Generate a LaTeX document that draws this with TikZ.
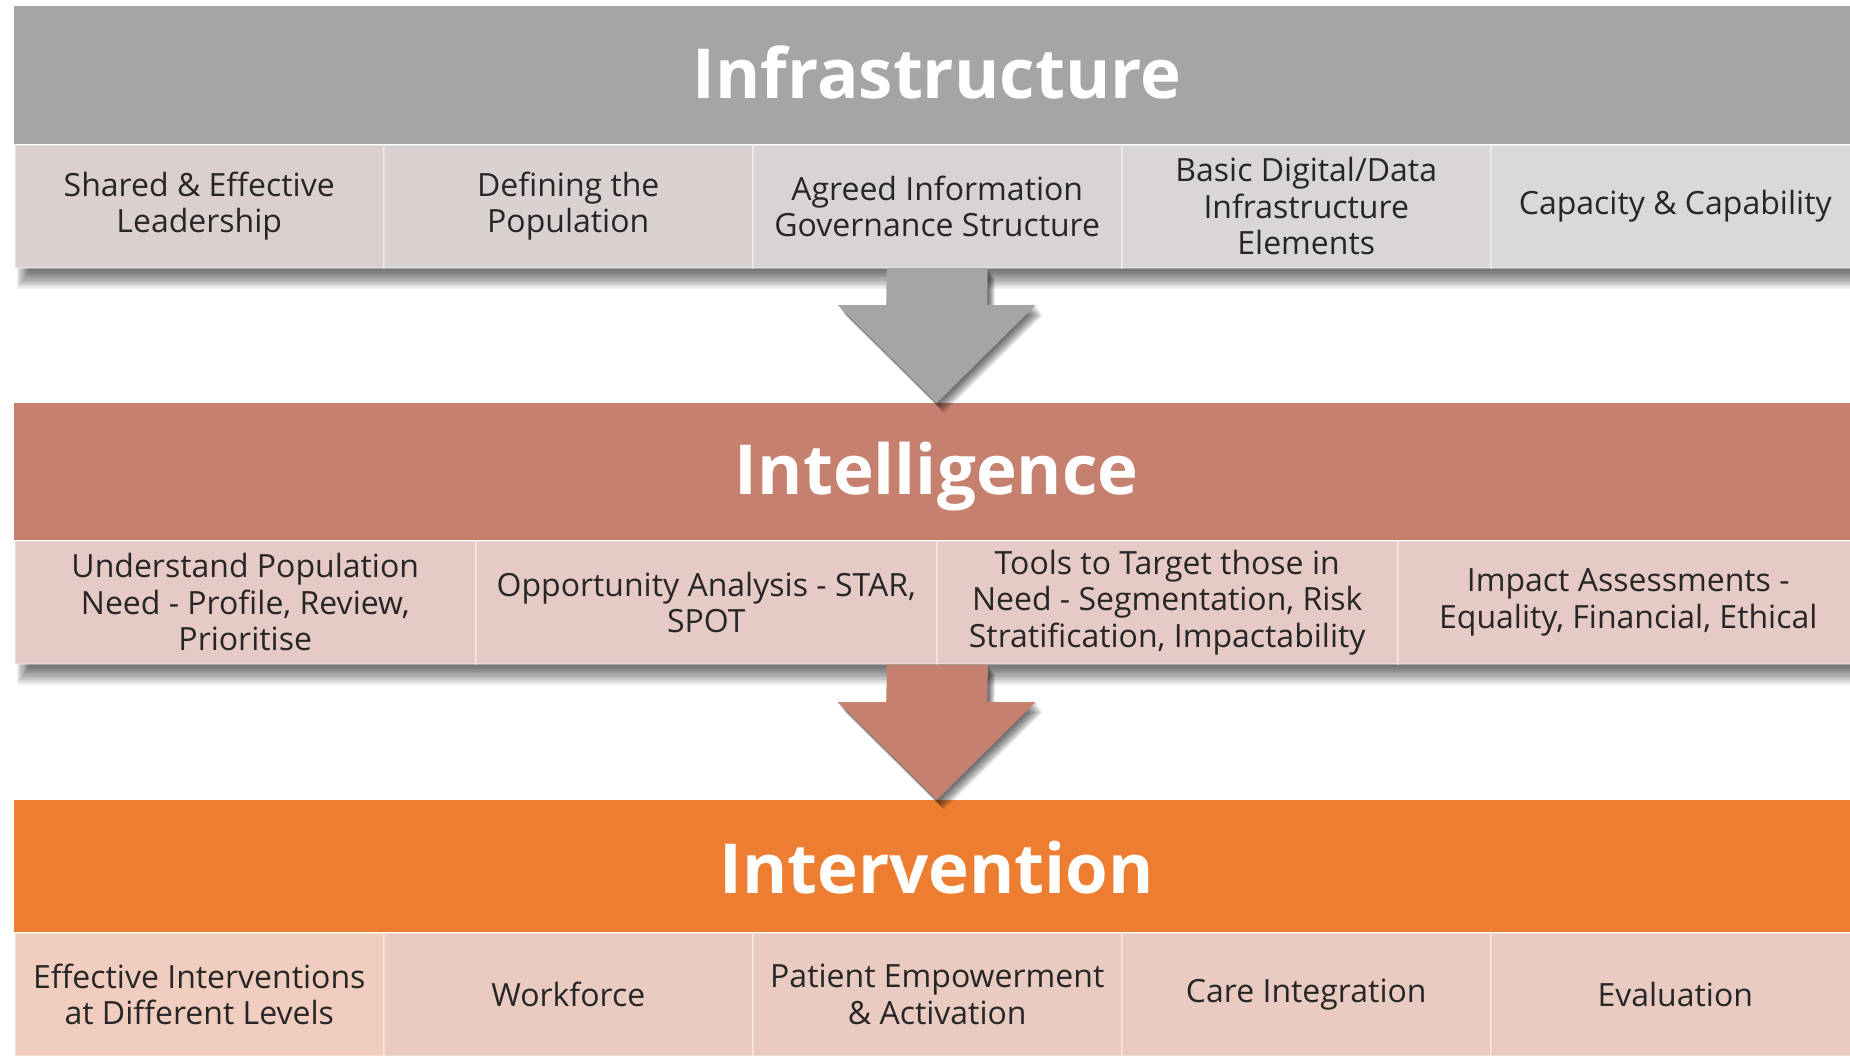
\documentclass[tikz,border=0pt]{standalone}
\usepackage{fontspec}
\setmainfont{Open Sans}
\usetikzlibrary{calc,backgrounds}

% band colours
\definecolor{infraband}{HTML}{A5A5A5}
\definecolor{intelband}{HTML}{C5806F}
\definecolor{interband}{HTML}{ED7D31}
% cell colours
\definecolor{infraA}{HTML}{DCD0CF}
\definecolor{infraB}{HTML}{DAD2D1}
\definecolor{infraC}{HTML}{D9D4D3}
\definecolor{infraD}{HTML}{D9D6D5}
\definecolor{infraE}{HTML}{D9D9D9}
\definecolor{intelcell}{HTML}{E6CAC5}
\definecolor{intercellA}{HTML}{F0CDBF}
\definecolor{intercell}{HTML}{E9CBC1}
\definecolor{celltext}{HTML}{262626}

% block arrow outline: start anchor, tip anchor, x offset, y offset, fill options
\newcommand\arrowfill[5]{%
  \fill[#5]
    ($(#1)+(-50.5+#3,#4)$) -- ($(#2)+(-50.5+#3,-98+#4)$)
    -- ($(#2)+(-99+#3,-98+#4)$) -- ($(#2)+(#3,#4)$)
    -- ($(#2)+(99+#3,-98+#4)$) -- ($(#2)+(50.5+#3,-98+#4)$)
    -- ($(#1)+(50.5+#3,#4)$) -- cycle;
}
% block arrow with a soft shadow: start anchor, tip anchor, colour
\newcommand\blockarrow[3]{%
  \foreach \k in {1,...,9}{%
    \arrowfill{#1}{#2}{\k*0.8}{\k*1.1}{black, opacity=0.085}
  }
  \arrowfill{#1}{#2}{0}{0}{#3}
}

% soft shadow under a row of cells: first cell, last cell
\newcommand\rowshadow[2]{%
  \foreach \k in {0,...,11}{%
    \fill[black, opacity=0.06]
      ($(#1.south west)+(3+1.1*\k,-40)$) rectangle ($(#2.south east)+(8-1.1*\k,20-1.6*\k)$);
  }
}

\begin{document}
\begin{tikzpicture}[x=1pt, y=-1pt,
  band/.style={anchor=north west, inner sep=0pt, minimum width=1845pt,
    minimum height=#1, text=white, text height=49pt, text depth=3pt,
    font=\fontsize{69}{80}\selectfont\bfseries},
  cell/.style={anchor=north west, inner sep=0pt, minimum height=123pt,
    align=center, text=celltext,
    font=\fontsize{32}{36.5}\selectfont,
    draw=white, draw opacity=0.35, line width=1.5pt},
  narrowcell/.style={cell, minimum width=369pt, fill=#1},
  widecell/.style={cell, minimum width=461pt, fill=#1}]

\useasboundingbox (0,0) rectangle (1850,1055);
\clip (0,0) rectangle (1850,1055);

% title bands
\node[band=138pt, fill=infraband] (infra) at (14,6) {Infrastructure};
\node[band=137pt, fill=intelband] (intel) at (14,403) {Intelligence};
\node[band=132pt, fill=interband, text height=57pt] (inter) at (14,800) {Intervention};

% infrastructure elements
\node[narrowcell=infraA] (r11) at (14,144)   {Shared \& Effective\\Leadership};
\node[narrowcell=infraB] (r12) at (383,144)  {Defining the\\Population};
\node[narrowcell=infraC] (r13) at (752,144)  {Agreed Information\\Governance Structure};
\node[narrowcell=infraD] (r14) at (1121,144) {Basic Digital/Data\\Infrastructure\\Elements};
\node[narrowcell=infraE] (r15) at (1490,144) {Capacity \& Capability};

% intelligence elements
\node[widecell=intelcell] (r21) at (14,540)   {Understand Population\\Need - Profile, Review,\\Prioritise};
\node[widecell=intelcell] (r22) at (475,540)  {Opportunity Analysis - STAR,\\SPOT};
\node[widecell=intelcell] (r23) at (936,540)  {Tools to Target those in\\Need - Segmentation, Risk\\Stratification, Impactability};
\node[widecell=intelcell] (r24) at (1397,540) {Impact Assessments -\\Equality, Financial, Ethical};

% intervention elements
\node[narrowcell=intercellA] (r31) at (14,932)  {Effective Interventions\\at Different Levels};
\node[narrowcell=intercell] (r32) at (383,932)  {Workforce};
\node[narrowcell=intercell] (r33) at (752,932)  {Patient Empowerment\\\& Activation};
\node[narrowcell=intercell] (r34) at (1121,932) {Care Integration};
\node[narrowcell=intercell] (r35) at (1490,932) {Evaluation};

% white page and shadows beneath the element rows
\begin{pgfonlayer}{background}
  \fill[white] (0,0) rectangle (1850,1055);
  \rowshadow{r11}{r15}
  \rowshadow{r21}{r24}
\end{pgfonlayer}

% flow arrows between the layers
\blockarrow{r13.south}{intel.north}{infraband}
\blockarrow{r22.south east}{inter.north}{intelband}

\end{tikzpicture}
\end{document}
